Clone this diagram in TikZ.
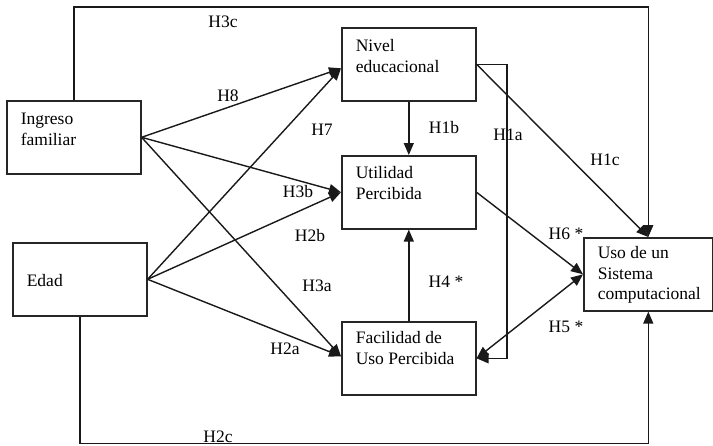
\documentclass[tikz,border=0pt]{standalone}
\usepackage{fontspec}
\setmainfont{Liberation Serif}
\usetikzlibrary{arrows.meta}
\begin{document}
\begin{tikzpicture}[x=1pt,y=-1pt,
  box/.style={draw=black!85, line width=1.6pt, inner xsep=14pt, inner ysep=0pt, anchor=north west, font=\fontsize{17.5}{20.5}\selectfont},
  conn/.style={draw=black!90, line width=1.4pt},
  arr/.style={conn, -{Triangle[length=12pt,width=10pt]}},
  darr/.style={conn, {Triangle[length=12pt,width=10pt]}-{Triangle[length=12pt,width=10pt]}},
  hyp/.style={font=\fontsize{17.5}{20.5}\selectfont, inner sep=0pt}]
\useasboundingbox (0,0) rectangle (713,445);
% boxes
\node[box, text height=24pt, text depth=49pt] (ing) at (6,100) {\parbox[t]{106pt}{\raggedright Ingreso\\familiar}};
\node[box, text height=44pt, text depth=29pt] (eda) at (12,242) {\parbox[t]{106pt}{\raggedright Edad}};
\node[box, text height=24pt, text depth=49pt] (niv) at (341,27) {\parbox[t]{106pt}{\raggedright Nivel\\educacional}};
\node[box, text height=23pt, text depth=50pt] (uti) at (341,155) {\parbox[t]{106pt}{\raggedright Utilidad\\Percibida}};
\node[box, text height=22pt, text depth=51pt] (fac) at (341,321) {\parbox[t]{106pt}{\raggedright Facilidad de\\Uso Percibida}};
\node[box, text height=21pt, text depth=52pt] (uso) at (583,237) {\parbox[t]{101pt}{\raggedright Uso de un\\Sistema\\computacional}};
% rails
\coordinate (toprail) at (0,7);
\coordinate (botrail) at (0,443.5);
\coordinate (h1arail) at (507,0);
% connectors
\draw[arr] (ing.north) -- (ing.north |- toprail) -| (uso.north);
\draw[arr] (eda.south) -- (eda.south |- botrail) -| (uso.south);
\draw[arr] (ing.east) -- ([yshift=-4pt]niv.west);
\draw[arr] (ing.east) -- (uti.west);
\draw[arr] (ing.east) -- ([yshift=2pt]fac.west);
\draw[arr] (eda.east) -- ([yshift=-4pt]niv.west);
\draw[arr] (eda.east) -- (uti.west);
\draw[arr] (eda.east) -- ([yshift=2pt]fac.west);
\draw[arr] (niv.south) -- (uti.north);
\draw[arr] (fac.north) -- (uti.south);
\draw[arr] (niv.east) -- (niv.east -| h1arail) -- (fac.east -| h1arail) -- (fac.east);
\draw[arr] (niv.east) -- (uso.north);
\draw[arr] (uti.east) -- (uso.west);
\draw[darr] (fac.east) -- (uso.west);
% labels
\node[hyp] (l3c) at (223,22) {H3c};
\node[hyp] (l8) at (228,96) {H8};
\node[hyp] (l7) at (322,130) {H7};
\node[hyp] (l3b) at (298,192) {H3b};
\node[hyp] (l1b) at (444,128) {H1b};
\node[hyp] (l1a) at (508,135) {H1a};
\node[hyp] (l1c) at (605,160) {H1c};
\node[hyp] (l2b) at (310,236) {H2b};
\node[hyp] (l3a) at (317,286) {H3a};
\node[hyp] (l2a) at (285,349) {H2a};
\node[hyp] (l2c) at (218,437) {H2c};
\node[hyp] (l6) at (566,234) {H6 *};
\node[hyp] (l4) at (446,282) {H4 *};
\node[hyp] (l5) at (566,327) {H5 *};
\end{tikzpicture}
\end{document}
